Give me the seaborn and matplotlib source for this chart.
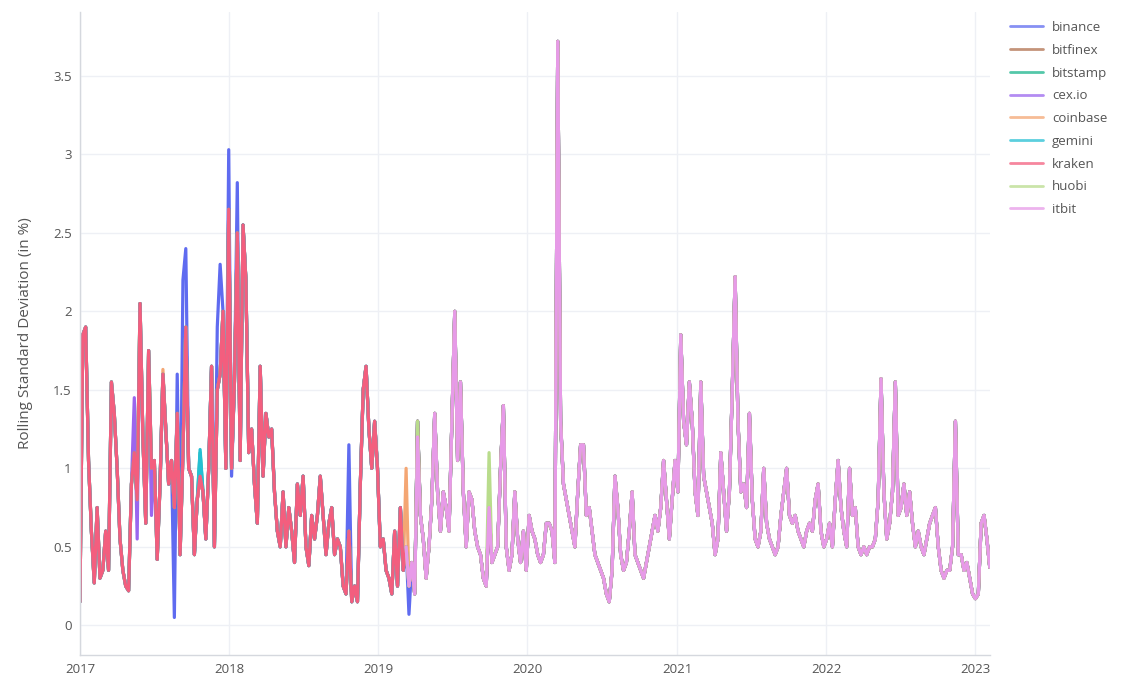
import matplotlib
matplotlib.use("Agg")
import matplotlib.pyplot as plt
import matplotlib.dates as mdates
from matplotlib.ticker import FixedLocator, FuncFormatter
import pandas as pd
import seaborn as sns

# ---------------- data (weekly readings of the rolling std, in %) ----------------
start_date = "2017-01-01"

rolling_std = [
    # 2017
    0.15, 1.85, 1.9, 1.05, 0.6, 0.27, 0.75, 0.3, 0.35, 0.6,
    0.35, 1.55, 1.35, 1.0, 0.55, 0.35, 0.25, 0.22, 0.9, 1.1,
    0.8, 2.05, 1.2, 0.65, 1.75, 1.0, 1.05, 0.42, 0.9, 1.6,
    1.25, 0.9, 1.05, 0.75, 1.35, 0.45, 1.1, 1.9, 1.0, 0.95,
    0.45, 0.8, 0.95, 0.85, 0.55, 1.0, 1.65, 0.5, 1.5, 1.6,
    2.0, 1.0, 2.65,
    # 2018
    1.0, 1.55, 2.5, 1.05, 2.55, 2.2, 1.1,
    1.25, 0.9, 0.65, 1.65, 0.95, 1.35, 1.2, 1.25, 0.85, 0.6,
    0.5, 0.85, 0.5, 0.75, 0.6, 0.4, 0.9, 0.7, 0.95, 0.5,
    0.38, 0.7, 0.55, 0.7, 0.95, 0.7, 0.45, 0.65, 0.75, 0.45,
    0.55, 0.5, 0.25, 0.2, 0.6, 0.15, 0.25, 0.15, 0.9, 1.5,
    1.65, 1.25, 1.0, 1.3, 1.0, 0.5,
    # 2019
    0.55, 0.35, 0.3, 0.2,
    0.6, 0.25, 0.75, 0.35, 0.5, 0.25, 0.4, 0.2, 1.3, 0.7,
    0.55, 0.3, 0.5, 0.8, 1.35, 0.85, 0.6, 0.85, 0.75, 0.6,
    1.3, 2.0, 1.05, 1.55, 0.85, 0.5, 0.85, 0.8, 0.6, 0.5,
    0.45, 0.3, 0.25, 0.75, 0.4, 0.45, 0.5, 1.0, 1.4, 0.5,
    0.35, 0.45, 0.85, 0.55, 0.4, 0.6, 0.35,
    # 2020
    0.7, 0.6, 0.55,
    0.45, 0.4, 0.45, 0.65, 0.65, 0.6, 0.4, 3.72, 1.3, 0.9,
    0.8, 0.7, 0.6, 0.5, 0.85, 1.15, 1.15, 0.7, 0.75, 0.6,
    0.45, 0.4, 0.35, 0.3, 0.2, 0.15, 0.35, 0.95, 0.75, 0.45,
    0.35, 0.4, 0.6, 0.85, 0.45, 0.4, 0.35, 0.3, 0.4, 0.5,
    0.6, 0.7, 0.6, 0.75, 1.05, 0.8, 0.55, 0.8, 1.05, 0.85,
    # 2021 - 2023
    1.85, 1.3, 1.15, 1.55, 1.3, 0.85, 0.7, 1.55, 0.95, 0.85,
    0.75, 0.65, 0.45, 0.55, 1.1, 0.85, 0.6, 0.85, 1.5, 2.22,
    1.3, 0.85, 0.9, 0.75, 1.35, 0.8, 0.55, 0.5, 0.6, 1.0,
    0.65, 0.55, 0.5, 0.45, 0.5, 0.7, 0.85, 1.0, 0.7, 0.65,
    0.7, 0.6, 0.55, 0.5, 0.6, 0.65, 0.6, 0.8, 0.9, 0.6,
    0.5, 0.55, 0.65, 0.5, 0.8, 1.05, 0.75, 0.6, 0.5, 1.0,
    0.7, 0.75, 0.5, 0.45, 0.5, 0.45, 0.5, 0.5, 0.55, 0.8,
    1.57, 0.85, 0.55, 0.65, 0.85, 1.55, 0.7, 0.75, 0.9, 0.7,
    0.85, 0.65, 0.5, 0.6, 0.5, 0.45, 0.55, 0.65, 0.7, 0.75,
    0.5, 0.35, 0.3, 0.35, 0.35, 0.5, 1.3, 0.45, 0.45, 0.35,
    0.4, 0.3, 0.2, 0.17, 0.2, 0.65, 0.7, 0.55, 0.37,
]

exchanges = ["binance", "bitfinex", "bitstamp", "cex.io", "coinbase",
             "gemini", "kraken", "huobi", "itbit"]

# first week with data for each exchange
first_week = {"binance": 28, "bitfinex": 0, "bitstamp": 0, "cex.io": 0,
              "coinbase": 0, "gemini": 0, "kraken": 0, "huobi": 114, "itbit": 114}

# weeks where an exchange visibly departs from the common level
binance_values = {33: 0.05, 34: 1.6, 36: 2.2, 37: 2.4, 48: 1.9, 49: 2.3,
                  52: 3.03, 53: 0.95, 55: 2.82, 94: 1.15, 115: 0.07}
cexio_values = {19: 1.45, 20: 0.55, 25: 0.7}
bitstamp_values = {42: 1.1}
gemini_values = {42: 1.12}
coinbase_values = {29: 1.63, 114: 1.0}
huobi_values = {143: 1.1}
itbit_values = {118: 1.2}

exchange_values = {"binance": binance_values, "cex.io": cexio_values,
                   "bitstamp": bitstamp_values, "gemini": gemini_values,
                   "coinbase": coinbase_values, "huobi": huobi_values,
                   "itbit": itbit_values}

colors = {"binance": "#5F6BF0", "bitfinex": "#B0704E", "bitstamp": "#1BB58C",
          "cex.io": "#9A66EE", "coinbase": "#F4A673", "gemini": "#25BFD3",
          "kraken": "#F35E7E", "huobi": "#B9DC8C", "itbit": "#E79AE8"}

# ---------------- build long table ----------------
dates = pd.date_range(start_date, periods=len(rolling_std), freq="7D")
rows = []
for ex in exchanges:
    vals = list(rolling_std)
    for w, v in exchange_values.get(ex, {}).items():
        vals[w] = v
    for i in range(first_week[ex], len(vals)):
        rows.append((dates[i], ex, vals[i]))
df = pd.DataFrame(rows, columns=["date", "exchange", "std"])

# ---------------- plot ----------------
sns.set_theme(style="white")
plt.rcParams["font.family"] = ["Open Sans", "DejaVu Sans"]

fig = plt.figure(figsize=(11.26, 6.81), dpi=100)
ax = fig.add_axes([0.071, 0.038, 0.808, 0.945])

sns.lineplot(data=df, x="date", y="std", hue="exchange", hue_order=exchanges,
             palette=colors, linewidth=2.3, estimator=None,
             ax=ax, legend=True)

ax.set_xlim(dates[0], dates[-1])
ax.set_ylim(-0.19, 3.91)
ax.yaxis.set_major_locator(FixedLocator([0, 0.5, 1, 1.5, 2, 2.5, 3, 3.5]))
ax.yaxis.set_major_formatter(FuncFormatter(lambda v, p: f"{v:g}"))
ax.xaxis.set_major_locator(mdates.YearLocator())
ax.xaxis.set_major_formatter(mdates.DateFormatter("%Y"))

ax.grid(True, color="#EEF0F5", linewidth=1)
ax.set_axisbelow(True)
for s in ["top", "right"]:
    ax.spines[s].set_visible(False)
for s in ["left", "bottom"]:
    ax.spines[s].set_color("#D5D8DE")
    ax.spines[s].set_linewidth(1)

ax.tick_params(axis="both", length=0, labelsize=9.5, labelcolor="#555555", pad=6)
ax.set_xlabel("")
ax.set_ylabel("Rolling Standard Deviation (in %)", fontsize=11, color="#555555", labelpad=14)

handles, labels = ax.get_legend_handles_labels()
leg = ax.legend(handles, labels, loc="upper left",
                bbox_to_anchor=(1010 / 1126, 1 - 21 / 681), bbox_transform=fig.transFigure,
                frameon=False, fontsize=9.5, handlelength=2.5, handletextpad=0.7,
                labelspacing=0.74, borderaxespad=0, borderpad=0, labelcolor="#555555")
for h in leg.get_lines():
    h.set_linewidth(2.0)
    h.set_alpha(0.75)

fig.savefig("out.png", dpi=100)
